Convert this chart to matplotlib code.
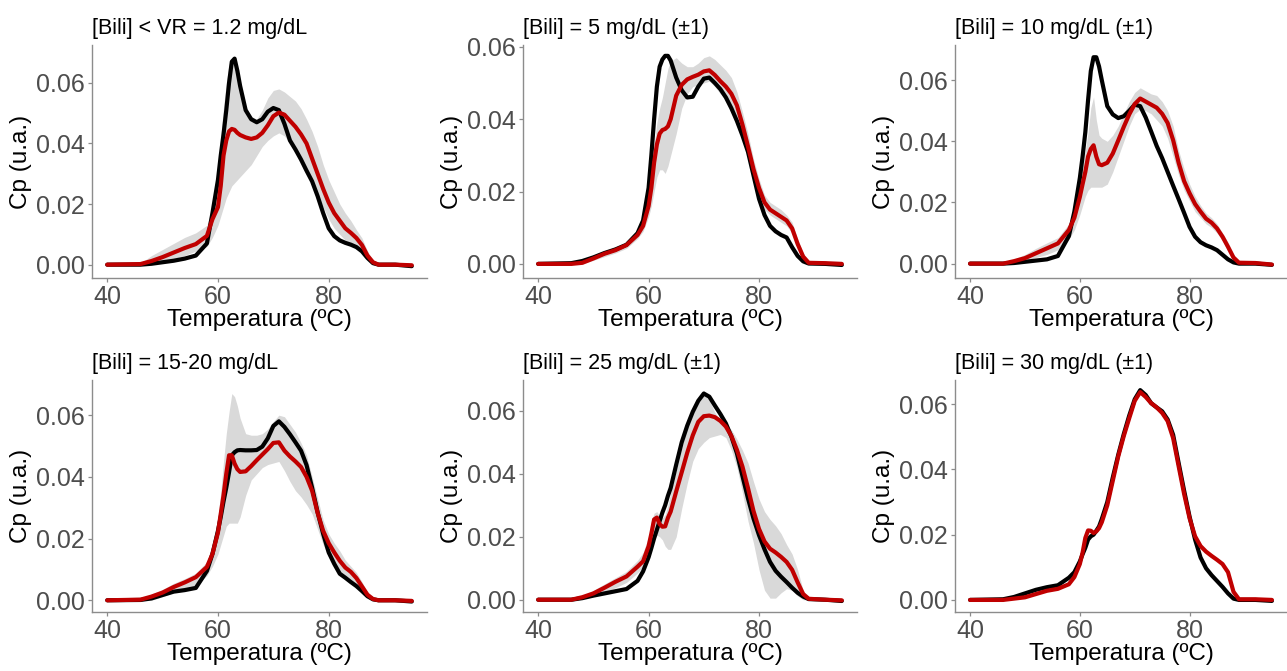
import matplotlib
matplotlib.use("Agg")
import matplotlib.pyplot as plt

plt.rcParams['font.family'] = ['Liberation Sans', 'DejaVu Sans']

# shared temperature grid (ºC)
temp = [40, 46, 48, 50, 52, 54, 56, 58, 59, 60, 60.5, 61, 61.5, 62, 62.5, 63, 63.5, 64, 65, 66,
        67, 68, 69, 70, 71, 72, 73, 74, 75, 76, 77, 78, 79, 80, 81, 82, 83, 84, 85, 86,
        87, 88, 89, 92, 95]

titles = ["[Bili] < VR = 1.2 mg/dL", "[Bili] = 5 mg/dL (±1)", "[Bili] = 10 mg/dL (±1)",
          "[Bili] = 15-20 mg/dL", "[Bili] = 25 mg/dL (±1)", "[Bili] = 30 mg/dL (±1)"]

# panel 1
black1 = [0, 0, 0.0003, 0.0008, 0.0013, 0.002, 0.003, 0.007, 0.017, 0.028, 0.036, 0.043, 0.051, 0.060, 0.067, 0.068, 0.064, 0.059, 0.051, 0.048,
          0.047, 0.048, 0.0505, 0.0517, 0.051, 0.0465, 0.041, 0.038, 0.0347, 0.031, 0.0275, 0.0226, 0.017, 0.012, 0.0094, 0.008, 0.0072, 0.0066, 0.0058, 0.0044,
          0.0022, 0.0005, 0, 0, -0.0005]
red1 = [0, 0.0002, 0.0012, 0.0025, 0.004, 0.0055, 0.0068, 0.0095, 0.015, 0.019, 0.026, 0.036, 0.041, 0.044, 0.0448, 0.0445, 0.0435, 0.0428, 0.042, 0.0415,
        0.042, 0.0435, 0.046, 0.049, 0.0502, 0.0495, 0.0475, 0.0455, 0.043, 0.040, 0.035, 0.030, 0.025, 0.0205, 0.017, 0.0145, 0.012, 0.0105, 0.0088, 0.0065,
        0.003, 0.0008, 0, 0, -0.0002]
lo1 = [0, 0, 0, 0.001, 0.002, 0.003, 0.0045, 0.006, 0.009, 0.013, 0.016, 0.019, 0.022, 0.024, 0.026, 0.027, 0.028, 0.029, 0.031, 0.033,
       0.036, 0.039, 0.041, 0.0425, 0.0435, 0.0425, 0.040, 0.037, 0.034, 0.031, 0.027, 0.023, 0.019, 0.015, 0.012, 0.010, 0.008, 0.0068, 0.0055, 0.004,
       0.0015, 0, 0, 0, 0]
hi1 = [0, 0.0005, 0.003, 0.005, 0.007, 0.009, 0.0105, 0.013, 0.019, 0.032, 0.042, 0.052, 0.060, 0.066, 0.068, 0.066, 0.062, 0.058, 0.052, 0.049,
       0.048, 0.051, 0.055, 0.0575, 0.058, 0.057, 0.0555, 0.054, 0.0515, 0.048, 0.044, 0.039, 0.033, 0.028, 0.024, 0.020, 0.017, 0.0145, 0.0115, 0.0088,
       0.0045, 0.0012, 0.0002, 0, 0]

# panel 2
black2 = [0, 0.0002, 0.0008, 0.0018, 0.003, 0.004, 0.0053, 0.0085, 0.012, 0.021, 0.030, 0.040, 0.049, 0.0545, 0.0565, 0.0575, 0.0575, 0.0562, 0.0515, 0.048,
          0.046, 0.0462, 0.049, 0.0512, 0.0515, 0.050, 0.0483, 0.046, 0.043, 0.0395, 0.0355, 0.031, 0.0245, 0.018, 0.0135, 0.0105, 0.009, 0.008, 0.0073, 0.0046,
          0.0022, 0.0007, 0.0001, 0, -0.0003]
red2 = [0, 0, 0.0003, 0.0015, 0.0028, 0.0038, 0.0052, 0.008, 0.0105, 0.016, 0.021, 0.028, 0.033, 0.036, 0.037, 0.0373, 0.038, 0.040, 0.0465, 0.0495,
        0.051, 0.0517, 0.0523, 0.0532, 0.0535, 0.0522, 0.0505, 0.049, 0.047, 0.0438, 0.0385, 0.0325, 0.0262, 0.021, 0.017, 0.015, 0.014, 0.013, 0.012, 0.0098,
        0.0055, 0.002, 0.0003, 0.0002, 0]
lo2 = [0, 0, 0, 0.001, 0.002, 0.003, 0.0043, 0.007, 0.009, 0.013, 0.016, 0.020, 0.024, 0.026, 0.026, 0.025, 0.027, 0.030, 0.036, 0.043,
       0.047, 0.049, 0.0495, 0.050, 0.0505, 0.049, 0.047, 0.0455, 0.0435, 0.0405, 0.0355, 0.030, 0.0245, 0.019, 0.015, 0.0135, 0.0125, 0.0115, 0.0105, 0.0085,
       0.0045, 0.0012, 0, 0, 0]
hi2 = [0, 0, 0.0008, 0.002, 0.0035, 0.0047, 0.006, 0.0095, 0.013, 0.020, 0.026, 0.033, 0.039, 0.043, 0.046, 0.050, 0.054, 0.056, 0.057, 0.0555,
       0.0545, 0.0545, 0.0555, 0.057, 0.0575, 0.0565, 0.055, 0.0535, 0.0515, 0.0475, 0.042, 0.036, 0.029, 0.0235, 0.019, 0.017, 0.016, 0.015, 0.0135, 0.0115,
       0.0068, 0.003, 0.0008, 0.0003, 0]

# panel 3
black3 = [0, 0, 0.0002, 0.0006, 0.001, 0.0014, 0.0025, 0.009, 0.017, 0.028, 0.035, 0.043, 0.0535, 0.063, 0.0675, 0.0675, 0.0645, 0.060, 0.0515, 0.0488,
          0.0476, 0.0482, 0.050, 0.052, 0.0515, 0.0478, 0.0432, 0.0385, 0.0345, 0.030, 0.0255, 0.0211, 0.0166, 0.012, 0.0088, 0.007, 0.006, 0.0053, 0.0044, 0.0029,
          0.0014, 0.0004, 0, 0, -0.0004]
red3 = [0, 0, 0.0008, 0.0018, 0.0034, 0.005, 0.0066, 0.011, 0.015, 0.0218, 0.026, 0.030, 0.035, 0.0375, 0.0387, 0.035, 0.0325, 0.0322, 0.033, 0.036,
        0.0403, 0.0447, 0.0488, 0.0522, 0.054, 0.053, 0.052, 0.051, 0.049, 0.046, 0.0404, 0.033, 0.027, 0.023, 0.0195, 0.017, 0.0147, 0.0134, 0.0115, 0.0088,
        0.0055, 0.002, 0.0003, 0.0002, -0.0003]
lo3 = [0, 0, 0.0002, 0.001, 0.002, 0.003, 0.0045, 0.008, 0.011, 0.016, 0.019, 0.022, 0.024, 0.025, 0.025, 0.025, 0.025, 0.025, 0.026, 0.030,
       0.035, 0.040, 0.045, 0.049, 0.0505, 0.050, 0.049, 0.047, 0.045, 0.041, 0.035, 0.029, 0.024, 0.0205, 0.017, 0.015, 0.013, 0.0118, 0.010, 0.0075,
       0.004, 0.001, 0, 0, 0]
hi3 = [0, 0.0003, 0.0015, 0.003, 0.005, 0.0068, 0.0085, 0.013, 0.018, 0.027, 0.032, 0.037, 0.043, 0.051, 0.0545, 0.047, 0.042, 0.041, 0.040, 0.042,
       0.045, 0.049, 0.053, 0.056, 0.0575, 0.0565, 0.0555, 0.055, 0.053, 0.050, 0.045, 0.037, 0.031, 0.026, 0.022, 0.019, 0.0165, 0.015, 0.013, 0.010,
       0.007, 0.003, 0.0008, 0.0003, 0]

# panel 4
black4 = [0, 0.0001, 0.0006, 0.0017, 0.0028, 0.0033, 0.004, 0.0095, 0.015, 0.0225, 0.027, 0.032, 0.0365, 0.0415, 0.047, 0.048, 0.0486, 0.0487, 0.0486, 0.0486,
          0.0487, 0.0498, 0.0525, 0.0565, 0.058, 0.0562, 0.0538, 0.0512, 0.0485, 0.0438, 0.0365, 0.0285, 0.0215, 0.0155, 0.0118, 0.0086, 0.0073, 0.0059, 0.0046, 0.003,
          0.0013, 0.0003, 0, 0, -0.0004]
red4 = [0, 0.0002, 0.0012, 0.0025, 0.0043, 0.0058, 0.0075, 0.0108, 0.015, 0.022, 0.028, 0.034, 0.041, 0.047, 0.047, 0.0443, 0.0425, 0.0416, 0.0418, 0.0435,
        0.0454, 0.0472, 0.049, 0.051, 0.0512, 0.0485, 0.0466, 0.045, 0.0432, 0.040, 0.0355, 0.0283, 0.0225, 0.0185, 0.0155, 0.0128, 0.0106, 0.0092, 0.0072, 0.0045,
        0.0018, 0.0004, 0, 0, -0.0002]
lo4 = [0, 0, 0, 0.0012, 0.0025, 0.0035, 0.0048, 0.008, 0.011, 0.015, 0.018, 0.021, 0.024, 0.025, 0.025, 0.025, 0.025, 0.027, 0.034, 0.039,
       0.041, 0.043, 0.044, 0.0445, 0.045, 0.042, 0.0385, 0.0355, 0.0335, 0.031, 0.028, 0.023, 0.018, 0.014, 0.011, 0.0088, 0.0075, 0.0062, 0.005, 0.003,
       0.0012, 0.0002, 0, 0, 0]
hi4 = [0, 0.0004, 0.002, 0.0035, 0.0055, 0.007, 0.0088, 0.0125, 0.018, 0.027, 0.035, 0.045, 0.054, 0.061, 0.067, 0.066, 0.063, 0.059, 0.054, 0.0535,
       0.0535, 0.054, 0.0555, 0.058, 0.060, 0.0595, 0.057, 0.0545, 0.051, 0.047, 0.040, 0.033, 0.026, 0.0215, 0.0185, 0.016, 0.013, 0.011, 0.009, 0.006,
       0.0025, 0.0006, 0, 0, 0]

# panel 5
black5 = [0, 0, 0.0005, 0.0013, 0.002, 0.0027, 0.0034, 0.006, 0.009, 0.0135, 0.0164, 0.0195, 0.0222, 0.025, 0.0277, 0.030, 0.033, 0.0355, 0.0429, 0.050,
          0.0553, 0.0597, 0.0632, 0.0655, 0.0645, 0.0617, 0.059, 0.056, 0.0518, 0.0465, 0.0393, 0.0322, 0.0258, 0.0205, 0.016, 0.012, 0.0092, 0.0073, 0.0056, 0.0038,
          0.0022, 0.001, 0.0002, 0, -0.0004]
red5 = [0, 0, 0.0008, 0.002, 0.0038, 0.0057, 0.0074, 0.0105, 0.0122, 0.017, 0.021, 0.0255, 0.0261, 0.024, 0.0232, 0.0233, 0.026, 0.028, 0.0344, 0.0405,
        0.0467, 0.0522, 0.0565, 0.0583, 0.0585, 0.058, 0.0568, 0.055, 0.052, 0.0476, 0.0423, 0.0355, 0.0282, 0.0225, 0.0185, 0.0162, 0.015, 0.0136, 0.012, 0.0095,
        0.0055, 0.0018, 0.0003, 0, -0.0002]
lo5 = [0, 0, 0.0003, 0.0012, 0.0025, 0.0038, 0.0055, 0.0085, 0.0105, 0.014, 0.017, 0.0195, 0.0205, 0.020, 0.019, 0.017, 0.016, 0.016, 0.020, 0.029,
       0.037, 0.044, 0.048, 0.050, 0.0515, 0.052, 0.0525, 0.0515, 0.0475, 0.042, 0.034, 0.025, 0.018, 0.0095, 0.003, 0.0005, 0.0005, 0.0022, 0.0035, 0.003,
       0.0012, 0, 0, 0, 0]
hi5 = [0, 0.0003, 0.0013, 0.003, 0.005, 0.007, 0.009, 0.0125, 0.015, 0.020, 0.025, 0.0275, 0.028, 0.0265, 0.026, 0.027, 0.030, 0.034, 0.041, 0.048,
       0.055, 0.060, 0.064, 0.0665, 0.0635, 0.0595, 0.057, 0.0555, 0.054, 0.051, 0.0475, 0.0435, 0.0375, 0.032, 0.028, 0.0255, 0.0235, 0.021, 0.0175, 0.0145,
       0.0095, 0.003, 0.0005, 0, 0]

# panel 6 (no visible spread)
black6 = [0, 0.0002, 0.0009, 0.002, 0.0031, 0.0039, 0.0045, 0.0068, 0.0085, 0.0118, 0.014, 0.016, 0.0185, 0.0195, 0.020, 0.0212, 0.0225, 0.0248, 0.030, 0.0375,
          0.0445, 0.0508, 0.0565, 0.0615, 0.0643, 0.0628, 0.0603, 0.059, 0.0578, 0.0553, 0.0506, 0.042, 0.0335, 0.0255, 0.0185, 0.013, 0.0097, 0.0076, 0.0058, 0.004,
          0.002, 0.0004, 0, 0, -0.0003]
red6 = [0, 0, 0.0004, 0.0008, 0.0018, 0.0028, 0.0034, 0.0048, 0.007, 0.011, 0.0145, 0.019, 0.0213, 0.0212, 0.0205, 0.021, 0.022, 0.0238, 0.029, 0.0365,
        0.044, 0.0502, 0.0557, 0.061, 0.0637, 0.0622, 0.0603, 0.059, 0.0573, 0.0548, 0.0496, 0.041, 0.0325, 0.025, 0.0195, 0.0165, 0.0148, 0.0135, 0.0123, 0.011,
        0.0085, 0.0025, 0.0002, 0.0002, 0]

panels = [
    (black1, red1, lo1, hi1),
    (black2, red2, lo2, hi2),
    (black3, red3, lo3, hi3),
    (black4, red4, lo4, hi4),
    (black5, red5, lo5, hi5),
    (black6, red6, None, None),
]
ylims = [(-0.0044, 0.0725), (-0.0039, 0.0605), (-0.0047, 0.0715),
         (-0.0038, 0.0714), (-0.0039, 0.0698), (-0.0037, 0.0674)]

W, H = 1287, 671
fig = plt.figure(figsize=(W / 100, H / 100), dpi=100)

lefts = [92, 523, 955]
rights = [427, 857, 1287]
tops = [45, 380]
bottoms = [278, 612]

RED = "#C00000"
RIBBON = "#D9D9D9"
AXGREY = "#8C8C8C"

for i, (blk, red, lo, hi) in enumerate(panels):
    r, c = divmod(i, 3)
    l, rt = lefts[c], rights[c]
    t, b = tops[r], bottoms[r]
    ax = fig.add_axes([l / W, 1 - b / H, (rt - l) / W, (b - t) / H])

    if lo is not None:
        ax.fill_between(temp, lo, hi, color=RIBBON, lw=0)
    ax.plot(temp, blk, color="black", lw=3.0, solid_capstyle="round", solid_joinstyle="round")
    ax.plot(temp, red, color=RED, lw=3.0, solid_capstyle="round", solid_joinstyle="round")

    ax.set_xlim(37.25, 97.75)
    ax.set_ylim(*ylims[i])
    ax.set_xticks([40, 60, 80])
    ax.set_yticks([0, 0.02, 0.04, 0.06])
    ax.set_yticklabels(["0.00", "0.02", "0.04", "0.06"])

    for side in ["top", "right"]:
        ax.spines[side].set_visible(False)
    for side in ["left", "bottom"]:
        ax.spines[side].set_color(AXGREY)
        ax.spines[side].set_linewidth(1.0)
    ax.tick_params(axis="both", colors=AXGREY, labelcolor="#4D4D4D", labelsize=18,
                   length=3, width=0.9, pad=2)

    ax.set_xlabel("Temperatura (ºC)", fontsize=17.5, color="black", labelpad=0)
    ax.set_ylabel("Cp (u.a.)", fontsize=17.5, color="black", labelpad=3)
    ax.set_title(titles[i], loc="left", fontsize=15.5, color="black", pad=8)

fig.savefig("out.png", dpi=100)
